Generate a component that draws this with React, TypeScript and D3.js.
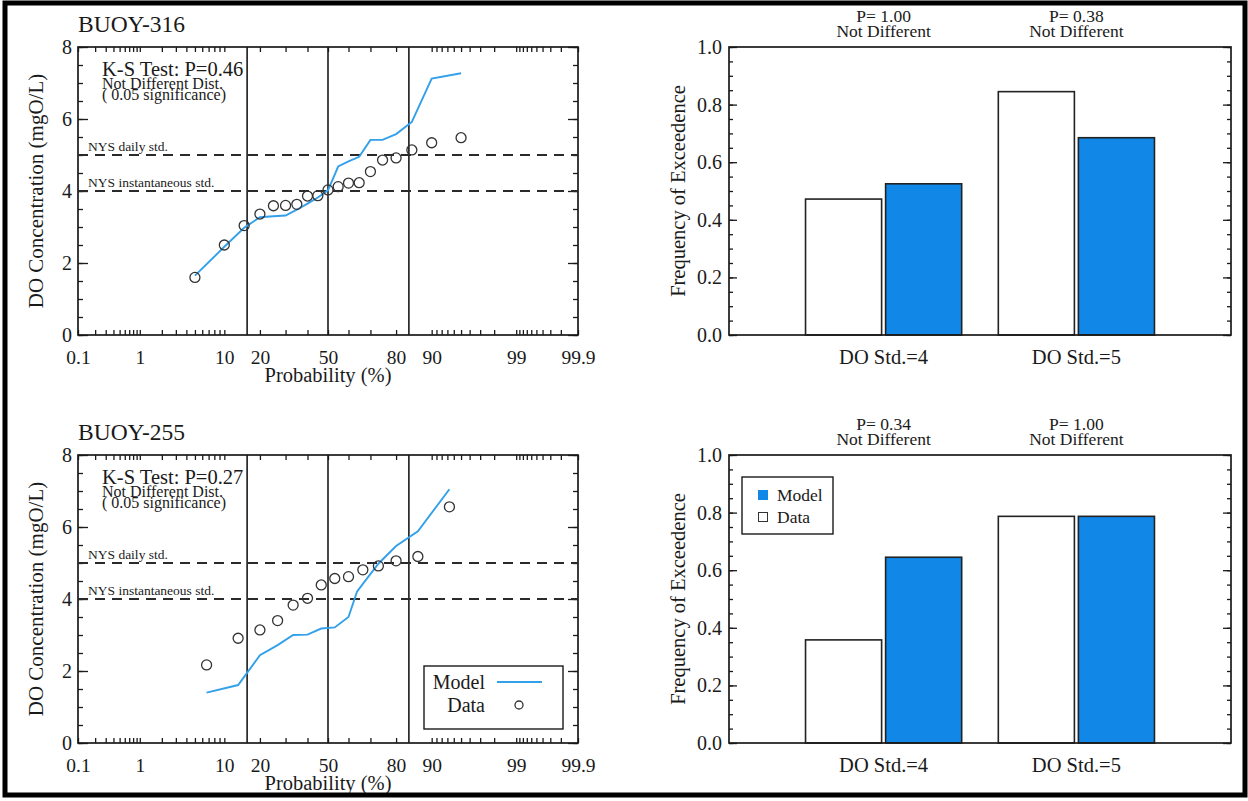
import React, { useEffect, useRef } from "react";
import * as d3 from "d3";

// probability axis (percent)
const probTicks = [0.1, 0.2, 0.3, 0.4, 0.5, 0.6, 0.7, 0.8, 0.9, 1, 2, 3, 4, 5, 6, 7, 8, 9, 10, 20, 30, 40, 50, 60, 70, 80, 90, 91, 92, 93, 94, 95, 96, 97, 98, 99, 99.1, 99.2, 99.3, 99.4, 99.5, 99.6, 99.7, 99.8, 99.9];
const probLabelVals = [0.1, 1, 10, 20, 50, 80, 90, 99, 99.9];
const probLabels = ["0.1", "1", "10", "20", "50", "80", "90", "99", "99.9"];
const sigmaLines = [15.87, 50, 84.13];

const buoyNames = ["BUOY-316", "BUOY-255"];
const ksValues = ["0.46", "0.27"];

const stdLevels = [5, 4];
const stdLabels = ["NYS daily std.", "NYS instantaneous std."];

// BUOY-316
const obsProb316 = [5, 10, 15, 20, 25, 30, 35, 40, 45, 50, 55, 60, 65, 70, 75, 80, 85, 90, 95];
const obsDo316 = [1.6, 2.5, 3.04, 3.36, 3.59, 3.6, 3.63, 3.86, 3.87, 4.03, 4.12, 4.22, 4.23, 4.54, 4.86, 4.92, 5.14, 5.34, 5.48];
const modProb316 = [5, 10, 15, 20, 25, 30, 35, 40, 45, 50, 55, 60, 65, 70, 75, 80, 85, 90, 95];
const modDo316 = [1.65, 2.45, 2.98, 3.27, 3.3, 3.32, 3.48, 3.65, 3.82, 4.02, 4.68, 4.82, 4.95, 5.42, 5.42, 5.58, 5.92, 7.12, 7.27];

// BUOY-255
const obsProb255 = [6.67, 13.33, 20, 26.67, 33.33, 40, 46.67, 53.33, 60, 66.67, 73.33, 80, 86.67, 93.33];
const obsDo255 = [2.17, 2.91, 3.14, 3.4, 3.83, 4.02, 4.39, 4.57, 4.62, 4.81, 4.92, 5.06, 5.18, 6.56];
const modProb255 = [6.67, 13.33, 20, 26.67, 33.33, 40, 46.67, 53.33, 60, 64, 66.67, 73.33, 80, 86.67, 93.33];
const modDo255 = [1.4, 1.61, 2.44, 2.72, 3.0, 3.01, 3.18, 3.21, 3.5, 4.2, 4.42, 4.98, 5.47, 5.88, 7.05];

// exceedence bars
const barCategories = ["DO Std.=4", "DO Std.=5"];
const barSeries = ["Data", "Model"];
const dataFreq316 = [0.472, 0.845];
const modelFreq316 = [0.525, 0.685];
const dataFreq255 = [0.358, 0.787];
const modelFreq255 = [0.645, 0.787];
const pValues316 = ["1.00", "0.38"];
const pValues255 = ["0.34", "1.00"];

const FONT = "'Liberation Serif', 'Times New Roman', serif";
const BLUE_LINE = "#33a0ea";
const BLUE_BAR = "#1188e8";
const INK = "#1a1a1a";

// inverse normal cdf (Acklam)
function probit(p: number) {
  const a = [-39.69683028665376, 220.9460984245205, -275.9285104469687, 138.357751867269, -30.66479806614716, 2.506628277459239];
  const b = [-54.47609879822406, 161.5858368580409, -155.6989798598866, 66.80131188771972, -13.28068155288572];
  const c = [-0.007784894002430293, -0.3223964580411365, -2.400758277161838, -2.549732539343734, 4.374664141464968, 2.938163982698783];
  const d = [0.007784695709041462, 0.3224671290700398, 2.445134137142996, 3.754408661907416];
  const pl = 0.02425;
  if (p < pl) {
    const q = Math.sqrt(-2 * Math.log(p));
    return (((((c[0] * q + c[1]) * q + c[2]) * q + c[3]) * q + c[4]) * q + c[5]) / ((((d[0] * q + d[1]) * q + d[2]) * q + d[3]) * q + 1);
  }
  if (p <= 1 - pl) {
    const q = p - 0.5, r = q * q;
    return ((((((a[0] * r + a[1]) * r + a[2]) * r + a[3]) * r + a[4]) * r + a[5]) * q) / (((((b[0] * r + b[1]) * r + b[2]) * r + b[3]) * r + b[4]) * r + 1);
  }
  const q = Math.sqrt(-2 * Math.log(1 - p));
  return -(((((c[0] * q + c[1]) * q + c[2]) * q + c[3]) * q + c[4]) * q + c[5]) / ((((d[0] * q + d[1]) * q + d[2]) * q + d[3]) * q + 1);
}

const leftX = [78, 578];
const rightX = [729, 1231];
const panelTop = [47, 455];
const panelH = 288;

function styleAxis(g: any, size: number) {
  g.select(".domain").remove();
  g.attr("font-family", FONT).attr("font-size", size);
  g.selectAll("line").attr("stroke", INK).attr("stroke-width", 1.3);
  g.selectAll("text").attr("fill", INK);
}

function label(g: any, x: number, y: number, txt: string, size: number, anchor = "start") {
  return g.append("text").attr("x", x).attr("y", y).attr("text-anchor", anchor).text(txt)
    .attr("font-family", FONT).attr("font-size", size).attr("fill", INK);
}

function drawProbPanel(svg: any, k: number, obsP: number[], obsV: number[], modP: number[], modV: number[], legend: boolean) {
  const top = panelTop[k];
  const bottom = top + panelH;
  const g = svg.append("g");
  const x = d3.scaleLinear().domain([probit(0.001), probit(0.999)]).range(leftX);
  const px = (pct: number) => x(probit(pct / 100));
  const y = d3.scaleLinear().domain([0, 8]).range([bottom, top]);

  // y ticks
  g.append("g").attr("transform", `translate(${leftX[0]},0)`)
    .call(d3.axisLeft(y).tickValues(d3.range(0, 8.01, 0.5)).tickSize(-5).tickFormat(() => ""))
    .call((a: any) => styleAxis(a, 19));
  g.append("g").attr("transform", `translate(${leftX[0]},0)`)
    .call(d3.axisLeft(y).tickValues([0, 2, 4, 6, 8]).tickSize(-10).tickPadding(6))
    .call((a: any) => styleAxis(a, 20));
  g.append("g").attr("transform", `translate(${leftX[1]},0)`)
    .call(d3.axisRight(y).tickValues(d3.range(0, 8.01, 0.5)).tickSize(-5).tickFormat(() => ""))
    .call((a: any) => styleAxis(a, 19));
  g.append("g").attr("transform", `translate(${leftX[1]},0)`)
    .call(d3.axisRight(y).tickValues([0, 2, 4, 6, 8]).tickSize(-10).tickFormat(() => ""))
    .call((a: any) => styleAxis(a, 19));

  // x ticks
  const zt = probTicks.map((p) => probit(p / 100));
  g.append("g").attr("transform", `translate(0,${bottom})`)
    .call(d3.axisBottom(x).tickValues(zt).tickSize(-5).tickFormat(() => ""))
    .call((a: any) => styleAxis(a, 19));
  g.append("g").attr("transform", `translate(0,${top})`)
    .call(d3.axisTop(x).tickValues(zt).tickSize(-5).tickFormat(() => ""))
    .call((a: any) => styleAxis(a, 19));
  g.append("g").attr("transform", `translate(0,${bottom})`)
    .call(d3.axisBottom(x).tickValues(probLabelVals.map((p) => probit(p / 100))).tickSize(0).tickPadding(15)
      .tickFormat((_d: any, i: number) => probLabels[i]))
    .call((a: any) => styleAxis(a, 19.5));

  // frame
  g.append("rect").attr("x", leftX[0]).attr("y", top).attr("width", leftX[1] - leftX[0]).attr("height", panelH)
    .attr("fill", "none").attr("stroke", INK).attr("stroke-width", 1.7);

  // sigma lines
  g.selectAll(".sig").data(sigmaLines).enter().append("line")
    .attr("x1", (d: number) => px(d)).attr("x2", (d: number) => px(d))
    .attr("y1", top).attr("y2", bottom).attr("stroke", INK).attr("stroke-width", 1.6);

  // standards
  stdLevels.forEach((s, i) => {
    g.append("line").attr("x1", leftX[0]).attr("x2", leftX[1]).attr("y1", y(s)).attr("y2", y(s))
      .attr("stroke", "#2a2a2a").attr("stroke-width", 1.9).attr("stroke-dasharray", "10,7");
    label(g, leftX[0] + 10, y(s) - 4, stdLabels[i], 13.5);
  });

  // model line
  const line = d3.line<number>().x((_d, i) => px(modP[i])).y((d) => y(d));
  g.append("path").datum(modV).attr("d", line).attr("fill", "none").attr("stroke", BLUE_LINE).attr("stroke-width", 1.9);

  // data circles
  g.selectAll(".obs").data(obsV).enter().append("circle")
    .attr("cx", (_d: number, i: number) => px(obsP[i])).attr("cy", (d: number) => y(d)).attr("r", 5)
    .attr("fill", "none").attr("stroke", "#333").attr("stroke-width", 1.3);

  // titles
  label(g, leftX[0], top - 15, buoyNames[k], 23.5);
  label(g, leftX[0] + 24, top + 29, `K-S Test: P=${ksValues[k]}`, 20.5);
  label(g, leftX[0] + 24, top + 42, "Not Different Dist.", 16);
  label(g, leftX[0] + 24, top + 53, "( 0.05 significance)", 16);

  g.append("text").attr("transform", `translate(${leftX[0] - 42},${top + panelH / 2}) rotate(-90)`)
    .attr("text-anchor", "middle").attr("dy", "0.35em").text("DO Concentration (mgO/L)")
    .attr("font-family", FONT).attr("font-size", 21).attr("fill", INK);
  label(g, (leftX[0] + leftX[1]) / 2, bottom + 47, "Probability (%)", 20.5, "middle");

  if (legend) {
    const lg = g.append("g");
    lg.append("rect").attr("x", 424).attr("y", 666).attr("width", 139).attr("height", 63)
      .attr("fill", "#fff").attr("stroke", INK).attr("stroke-width", 1.4);
    label(lg, 485, 689, "Model", 20, "end");
    lg.append("line").attr("x1", 497).attr("x2", 542).attr("y1", 682).attr("y2", 682)
      .attr("stroke", BLUE_LINE).attr("stroke-width", 1.9);
    label(lg, 485, 712, "Data", 20, "end");
    lg.append("circle").attr("cx", 519).attr("cy", 705).attr("r", 4)
      .attr("fill", "none").attr("stroke", "#333").attr("stroke-width", 1.3);
  }
}

function drawBarPanel(svg: any, k: number, dataF: number[], modelF: number[], pvals: string[], legend: boolean) {
  const top = panelTop[k];
  const bottom = top + panelH;
  const g = svg.append("g");
  const y = d3.scaleLinear().domain([0, 1]).range([bottom, top]);
  const x = d3.scaleBand().domain(barCategories).range(rightX).paddingInner(0.19).paddingOuter(0.397);
  const xs = d3.scaleBand().domain(barSeries).range([0, x.bandwidth()]).paddingInner(0.05);

  g.append("g").attr("transform", `translate(${rightX[0]},0)`)
    .call(d3.axisLeft(y).tickValues(d3.range(0, 1.001, 0.05)).tickSize(-4).tickFormat(() => ""))
    .call((a: any) => styleAxis(a, 19));
  g.append("g").attr("transform", `translate(${rightX[0]},0)`)
    .call(d3.axisLeft(y).tickValues(d3.range(0, 1.001, 0.2)).tickSize(-8).tickPadding(7).tickFormat(d3.format(".1f")))
    .call((a: any) => styleAxis(a, 20));
  g.append("g").attr("transform", `translate(${rightX[1]},0)`)
    .call(d3.axisRight(y).tickValues(d3.range(0, 1.001, 0.05)).tickSize(-4).tickFormat(() => ""))
    .call((a: any) => styleAxis(a, 19));
  g.append("g").attr("transform", `translate(${rightX[1]},0)`)
    .call(d3.axisRight(y).tickValues(d3.range(0, 1.001, 0.2)).tickSize(-8).tickFormat(() => ""))
    .call((a: any) => styleAxis(a, 19));

  const vals = [dataF, modelF];
  barSeries.forEach((s, si) => {
    g.selectAll(".bar" + si).data(vals[si]).enter().append("rect")
      .attr("x", (_d: number, i: number) => (x(barCategories[i]) as number) + (xs(s) as number))
      .attr("y", (d: number) => y(d))
      .attr("width", xs.bandwidth())
      .attr("height", (d: number) => bottom - y(d))
      .attr("fill", s === "Model" ? BLUE_BAR : "#fff")
      .attr("stroke", "#222").attr("stroke-width", 1.6);
  });

  g.append("rect").attr("x", rightX[0]).attr("y", top).attr("width", rightX[1] - rightX[0]).attr("height", panelH)
    .attr("fill", "none").attr("stroke", INK).attr("stroke-width", 1.7);

  barCategories.forEach((c, i) => {
    const cx = (x(c) as number) + x.bandwidth() / 2;
    label(g, cx, bottom + 29, c, 20.5, "middle");
    label(g, cx, top - 25, `P= ${pvals[i]}`, 17.5, "middle");
    label(g, cx, top - 10, "Not Different", 17.5, "middle");
  });

  g.append("text").attr("transform", `translate(${rightX[0] - 51},${top + panelH / 2}) rotate(-90)`)
    .attr("text-anchor", "middle").attr("dy", "0.35em").text("Frequency of Exceedence")
    .attr("font-family", FONT).attr("font-size", 20.5).attr("fill", INK);

  if (legend) {
    const lg = g.append("g");
    lg.append("rect").attr("x", 742).attr("y", 477).attr("width", 91).attr("height", 57)
      .attr("fill", "#fff").attr("stroke", INK).attr("stroke-width", 1.4);
    lg.append("rect").attr("x", 758).attr("y", 490).attr("width", 10).attr("height", 10).attr("fill", BLUE_BAR);
    label(lg, 777, 501, "Model", 17.5);
    lg.append("rect").attr("x", 758.5).attr("y", 512.5).attr("width", 9).attr("height", 9)
      .attr("fill", "#fff").attr("stroke", "#333").attr("stroke-width", 1);
    label(lg, 777, 523, "Data", 17.5);
  }
}

export default function App() {
  const ref = useRef<SVGSVGElement>(null);

  useEffect(() => {
    const svg = d3.select(ref.current);
    svg.selectAll("*").remove();
    svg.append("rect").attr("width", 1248).attr("height", 801).attr("fill", "#fff");

    drawProbPanel(svg, 0, obsProb316, obsDo316, modProb316, modDo316, false);
    drawProbPanel(svg, 1, obsProb255, obsDo255, modProb255, modDo255, true);
    drawBarPanel(svg, 0, dataFreq316, modelFreq316, pValues316, false);
    drawBarPanel(svg, 1, dataFreq255, modelFreq255, pValues255, true);

    // outer border
    svg.append("rect").attr("x", 5).attr("y", 3).attr("width", 1240).attr("height", 792)
      .attr("fill", "none").attr("stroke", "#000").attr("stroke-width", 5);
  }, []);

  return (
    <svg ref={ref} width={1248} height={801}
      style={{ position: "absolute", left: 0, top: 0, display: "block" }} />
  );
}
